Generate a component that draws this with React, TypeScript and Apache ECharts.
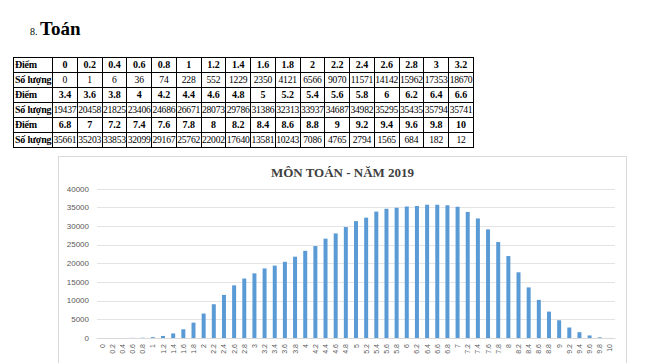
import React, { useEffect, useRef } from "react";
import * as echarts from "echarts";

const scores = ["0","0.2","0.4","0.6","0.8","1","1.2","1.4","1.6","1.8","2","2.2","2.4","2.6","2.8","3","3.2","3.4","3.6","3.8","4","4.2","4.4","4.6","4.8","5","5.2","5.4","5.6","5.8","6","6.2","6.4","6.6","6.8","7","7.2","7.4","7.6","7.8","8","8.2","8.4","8.6","8.8","9","9.2","9.4","9.6","9.8","10"];
const counts = [0,1,6,36,74,228,552,1229,2350,4121,6566,9070,11571,14142,15962,17353,18670,19437,20458,21825,23406,24686,26671,28073,29786,31386,32313,33937,34687,34982,35295,35435,35794,35741,35661,35203,33853,32099,29167,25762,22002,17640,13581,10243,7086,4765,2794,1565,684,182,12];
const chartTitle = "MÔN TOÁN - NĂM 2019";
const heading = "Toán";
const rowScore = "Điểm";
const rowCount = "Số lượng";
const perRow = 17;

function Chart() {
  const ref = useRef<HTMLDivElement>(null);
  useEffect(() => {
    const chart = echarts.init(ref.current!, null, { renderer: "svg" });
    chart.setOption({
      animation: false,
      title: {
        text: chartTitle,
        left: "center",
        top: 4,
        textStyle: { fontFamily: "Liberation Serif", fontWeight: "bold", fontSize: 13, color: "#404040" },
      },
      grid: { left: 38, right: 11, top: 32, bottom: 47, containLabel: false },
      xAxis: {
        type: "category",
        data: scores,
        axisLine: { lineStyle: { color: "#D9D9D9" } },
        axisTick: { show: false },
        axisLabel: { rotate: 90, interval: 0, fontSize: 7, color: "#595959", margin: 6, fontFamily: "Liberation Sans" },
      },
      yAxis: {
        type: "value",
        min: 0,
        max: 40000,
        interval: 5000,
        axisLine: { show: false },
        axisTick: { show: false },
        splitLine: { lineStyle: { color: "#E4E4E4" } },
        axisLabel: { fontSize: 8, color: "#595959", margin: 8, fontFamily: "Liberation Sans", formatter: (v: number) => String(v) },
      },
      series: [
        {
          type: "bar",
          data: counts,
          barWidth: 4,
          itemStyle: { color: "#5B9BD5" },
        },
      ],
    });
    return () => chart.dispose();
  }, []);
  return (
    <div
      ref={ref}
      style={{ position: "absolute", left: 58, top: 156, width: 569, height: 230, border: "1px solid #D9D9D9", boxSizing: "border-box" }}
    />
  );
}

export default function App() {
  const groups: number[][] = [];
  for (let i = 0; i < scores.length; i += perRow) {
    const idx: number[] = [];
    for (let j = i; j < Math.min(i + perRow, scores.length); j++) idx.push(j);
    groups.push(idx);
  }
  const cell: React.CSSProperties = { border: "1px solid #000", padding: 0, textAlign: "center", height: 14, lineHeight: "14px", overflow: "hidden", whiteSpace: "nowrap" };
  const first: React.CSSProperties = { ...cell, textAlign: "left", fontWeight: "bold", paddingLeft: 1, letterSpacing: -0.2 };
  return (
    <div style={{ position: "absolute", left: 0, top: 0, width: 645, height: 363, overflow: "hidden", background: "#fff", fontFamily: "Liberation Serif" }}>
      <div style={{ position: "absolute", left: 30, top: 18, whiteSpace: "nowrap", color: "#000" }}>
        <span style={{ fontSize: 10 }}>8. </span>
        <span style={{ fontSize: 19, fontWeight: "bold" }}>{heading}</span>
      </div>
      <table
        style={{ position: "absolute", left: 13, top: 57, width: 461, borderCollapse: "collapse", fontSize: 10, tableLayout: "fixed", color: "#000" }}
      >
        <colgroup>
          <col style={{ width: 39 }} />
          {Array.from({ length: perRow }).map((_, i) => (
            <col key={i} />
          ))}
        </colgroup>
        <tbody>
          {groups.map((g, gi) => (
            <React.Fragment key={gi}>
              <tr>
                <td style={first}>{rowScore}</td>
                {g.map((i) => (
                  <td key={i} style={{ ...cell, fontWeight: "bold" }}>{scores[i]}</td>
                ))}
              </tr>
              <tr>
                <td style={first}>{rowCount}</td>
                {g.map((i) => (
                  <td key={i} style={{ ...cell, fontSize: 9.6, letterSpacing: -0.25 }}>{counts[i]}</td>
                ))}
              </tr>
            </React.Fragment>
          ))}
        </tbody>
      </table>
      <Chart />
    </div>
  );
}
